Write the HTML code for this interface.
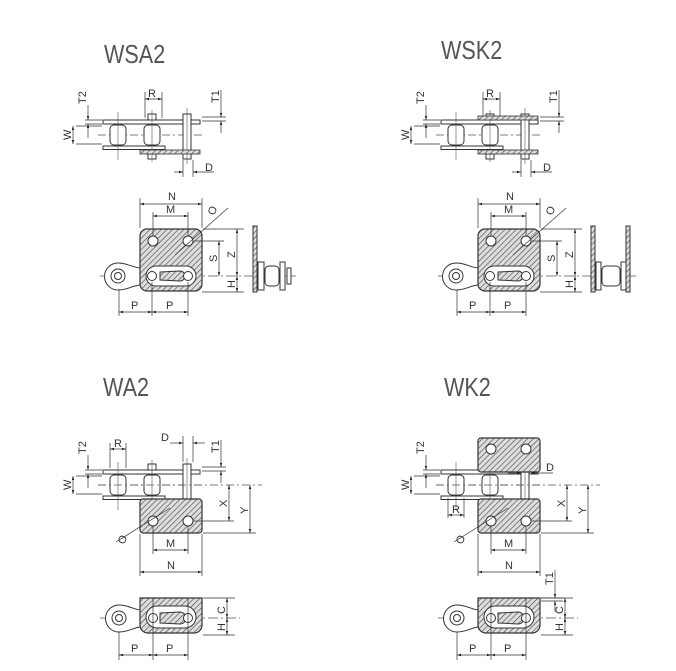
<!DOCTYPE html>
<html><head><meta charset="utf-8"><style>
html,body{margin:0;padding:0;background:#fff}
svg{display:block}
text{font-family:"Liberation Sans",sans-serif;fill:#333}
.t{font-size:30px;fill:#555}
.l{font-size:11px}
</style></head><body>
<svg width="676" height="671" viewBox="0 0 676 671" xmlns="http://www.w3.org/2000/svg">
<defs>
<pattern id="h" width="4" height="4" patternUnits="userSpaceOnUse" patternTransform="rotate(45)">
<rect width="4" height="4" fill="#ddd"/><line x1="0" y1="0" x2="0" y2="4" stroke="#444" stroke-width="1.2"/></pattern>
<marker id="a" viewBox="0 0 10 10" refX="10" refY="5" markerWidth="6" markerHeight="6" orient="auto-start-reverse"><path d="M0,2 L10,5 L0,8z" fill="#222"/></marker>

<!-- top view of link base -->
<g id="tb">
 <line x1="98" y1="135" x2="205" y2="135" stroke="#555" stroke-width="0.8" stroke-dasharray="8,3,2,3"/>
 <rect x="103" y="120" width="97" height="4" fill="#fff" stroke="#333" stroke-width="1"/>
 <rect x="103" y="146" width="62" height="3.5" fill="#fff" stroke="#333" stroke-width="1"/>
 <rect x="110" y="125" width="16" height="20" rx="4" fill="#fff" stroke="#333"/>
 <rect x="144" y="125" width="16" height="20" rx="4" fill="#fff" stroke="#333"/>
 <rect x="183" y="114" width="8" height="45" fill="#fff" stroke="#333"/>
 <rect x="148" y="114" width="8" height="6" fill="#fff" stroke="#333"/>
 <rect x="148" y="154" width="8" height="5" fill="#fff" stroke="#333"/>
 <line x1="118" y1="112" x2="118" y2="160" stroke="#555" stroke-width="0.6"/>
 <line x1="152" y1="110" x2="152" y2="162" stroke="#555" stroke-width="0.6"/>
 <line x1="187" y1="108" x2="187" y2="164" stroke="#555" stroke-width="0.6"/>
 <g stroke="#333" stroke-width="0.7" fill="none">
  <line x1="76" y1="126" x2="102" y2="126"/><line x1="76" y1="144" x2="102" y2="144"/>
  <line x1="73" y1="126" x2="73" y2="144" marker-start="url(#a)" marker-end="url(#a)"/>
  <line x1="88" y1="105" x2="88" y2="120" marker-end="url(#a)"/><line x1="88" y1="138" x2="88" y2="124" marker-end="url(#a)"/>
  <line x1="85" y1="120" x2="102" y2="120"/><line x1="85" y1="124" x2="102" y2="124"/>
 </g>
 <text class="l" transform="translate(71,140) rotate(-90)">W</text>
 <text class="l" transform="translate(86,104) rotate(-90)">T2</text>
</g>
<g id="t1">
 <g stroke="#333" stroke-width="0.7" fill="none">
  <line x1="202" y1="117" x2="226" y2="117"/><line x1="202" y1="121" x2="226" y2="121"/>
  <line x1="221" y1="90" x2="221" y2="117" marker-end="url(#a)"/><line x1="221" y1="133" x2="221" y2="121" marker-end="url(#a)"/>
 </g>
 <text class="l" transform="translate(219,103) rotate(-90)">T1</text>
</g>
<g id="top">
 <use href="#tb"/><use href="#t1"/>
 <g stroke="#333" stroke-width="0.7" fill="none">
  <line x1="145" y1="92" x2="145" y2="118"/><line x1="162" y1="92" x2="162" y2="118"/>
  <line x1="145" y1="99" x2="162" y2="99" marker-start="url(#a)" marker-end="url(#a)"/>
  <line x1="183" y1="160" x2="183" y2="177"/><line x1="193" y1="160" x2="193" y2="177"/>
  <line x1="174" y1="172" x2="183" y2="172" marker-end="url(#a)"/><line x1="214" y1="172" x2="193" y2="172" marker-end="url(#a)"/>
 </g>
 <text class="l" x="148" y="97">R</text>
 <text class="l" x="205" y="171">D</text>
</g>

<!-- side view (S types) -->
<g id="side">
 <line x1="100" y1="276" x2="245" y2="276" stroke="#555" stroke-width="0.8" stroke-dasharray="10,3,2,3"/>
 <path d="M118,263 C128,263 133,268 141,268 L141,285 C133,285 128,290 118,290 A13.5,13.5 0 0 1 118,263z" fill="#fff" stroke="#333"/>
 <circle cx="118" cy="276" r="7" fill="#fff" stroke="#333"/><circle cx="118" cy="276" r="3.5" fill="none" stroke="#333"/>
 <rect x="140" y="229" width="62" height="62" rx="7" fill="url(#h)" stroke="#333" stroke-width="1.2"/>
 <rect x="146" y="266" width="50" height="20" rx="10" fill="#fff" stroke="#333"/>
 <path d="M160,272 L180,271 A5,5 0 0 1 180,281 L160,280z" fill="url(#h)" stroke="#333"/>
 <circle cx="152" cy="276" r="4.5" fill="#fff" stroke="#333"/><circle cx="188" cy="276" r="4.5" fill="#fff" stroke="#333"/>
 <circle cx="153" cy="241" r="5" fill="#fff" stroke="#333"/><circle cx="188" cy="241" r="5" fill="#fff" stroke="#333"/>
 <g stroke="#333" stroke-width="0.7" fill="none">
  <line x1="140" y1="198" x2="140" y2="228"/><line x1="202" y1="198" x2="202" y2="228"/>
  <line x1="140" y1="204" x2="202" y2="204" marker-start="url(#a)" marker-end="url(#a)"/>
  <line x1="153" y1="212" x2="153" y2="236"/><line x1="188" y1="212" x2="188" y2="236"/>
  <line x1="153" y1="216" x2="188" y2="216" marker-start="url(#a)" marker-end="url(#a)"/>
  <line x1="119" y1="290" x2="119" y2="316"/><line x1="152" y1="282" x2="152" y2="316"/><line x1="188" y1="282" x2="188" y2="316"/>
  <line x1="119" y1="312" x2="152" y2="312" marker-start="url(#a)" marker-end="url(#a)"/>
  <line x1="152" y1="312" x2="188" y2="312" marker-start="url(#a)" marker-end="url(#a)"/>
  <line x1="175" y1="255" x2="228" y2="208"/>
  <line x1="194" y1="241" x2="224" y2="241"/><line x1="203" y1="229" x2="244" y2="229"/><line x1="202" y1="292" x2="244" y2="292"/>
  <line x1="219" y1="241" x2="219" y2="276" marker-start="url(#a)" marker-end="url(#a)"/>
  <line x1="237" y1="229" x2="237" y2="276" marker-start="url(#a)" marker-end="url(#a)"/>
  <line x1="237" y1="276" x2="237" y2="292" marker-start="url(#a)" marker-end="url(#a)"/>
 </g>
 <text class="l" x="168" y="200">N</text><text class="l" x="166" y="213">M</text>
 <text class="l" x="131" y="309">P</text><text class="l" x="166" y="309">P</text>
 <text class="l" transform="translate(214,216) rotate(-65)">O</text>
 <text class="l" transform="translate(217,262) rotate(-90)">S</text>
 <text class="l" transform="translate(235,258) rotate(-90)">Z</text>
 <text class="l" transform="translate(235,288) rotate(-90)">H</text>
</g>

<!-- bottom view (A/K) -->
<g id="bot">
 <line x1="100" y1="618" x2="240" y2="618" stroke="#555" stroke-width="0.8" stroke-dasharray="10,3,2,3"/>
 <path d="M119,605 C129,605 134,610 141,610 L141,627 C134,627 129,632 119,632 A13.5,13.5 0 0 1 119,605z" fill="#fff" stroke="#333"/>
 <circle cx="119" cy="618" r="7" fill="#fff" stroke="#333"/><circle cx="119" cy="618" r="3.5" fill="none" stroke="#333"/>
 <path d="M140,598 L202,598 L202,625 A8,8 0 0 1 194,633 L148,633 A8,8 0 0 1 140,625z" fill="url(#h)" stroke="#333" stroke-width="1.2"/>
 <rect x="146" y="606" width="50" height="22" rx="11" fill="#fff" stroke="#333"/>
 <path d="M160,613 L180,612 A6,6 0 0 1 180,624 L160,623z" fill="url(#h)" stroke="#333"/>
 <circle cx="153" cy="618" r="4.5" fill="#fff" stroke="#333"/><circle cx="188" cy="618" r="4.5" fill="#fff" stroke="#333"/>
 <g stroke="#333" stroke-width="0.7" fill="none">
  <line x1="119" y1="632" x2="119" y2="660"/><line x1="153" y1="598" x2="153" y2="660"/><line x1="188" y1="598" x2="188" y2="660"/>
  <line x1="119" y1="655" x2="153" y2="655" marker-start="url(#a)" marker-end="url(#a)"/>
  <line x1="153" y1="655" x2="188" y2="655" marker-start="url(#a)" marker-end="url(#a)"/>
  <line x1="203" y1="598" x2="235" y2="598"/><line x1="203" y1="635" x2="235" y2="635"/>
  <line x1="227" y1="598" x2="227" y2="618" marker-start="url(#a)" marker-end="url(#a)"/>
  <line x1="227" y1="618" x2="227" y2="635" marker-start="url(#a)" marker-end="url(#a)"/>
 </g>
 <text class="l" x="131" y="652">P</text><text class="l" x="166" y="652">P</text>
 <text class="l" transform="translate(225,614) rotate(-90)">C</text>
 <text class="l" transform="translate(225,631) rotate(-90)">H</text>
</g>

<!-- lower plate + dims (A/K) -->
<g id="lp">
 <line x1="98" y1="485" x2="262" y2="485" stroke="#555" stroke-width="0.8" stroke-dasharray="8,3,2,3"/>
 <rect x="140" y="499" width="62" height="34" rx="3" fill="url(#h)" stroke="#333" stroke-width="1.2"/>
 <circle cx="153" cy="521" r="5" fill="#fff" stroke="#333"/><circle cx="188" cy="521" r="5" fill="#fff" stroke="#333"/>
 <g stroke="#333" stroke-width="0.7" fill="none">
  <line x1="116" y1="542" x2="170" y2="508"/>
  <line x1="140" y1="534" x2="140" y2="576"/><line x1="202" y1="534" x2="202" y2="576"/>
  <line x1="140" y1="572" x2="202" y2="572" marker-start="url(#a)" marker-end="url(#a)"/>
  <line x1="153" y1="526" x2="153" y2="554"/><line x1="188" y1="526" x2="188" y2="554"/>
  <line x1="153" y1="550" x2="188" y2="550" marker-start="url(#a)" marker-end="url(#a)"/>
  <line x1="193" y1="521" x2="234" y2="521"/><line x1="203" y1="533" x2="256" y2="533"/>
  <line x1="229" y1="485" x2="229" y2="521" marker-start="url(#a)" marker-end="url(#a)"/>
  <line x1="250" y1="485" x2="250" y2="533" marker-start="url(#a)" marker-end="url(#a)"/>
 </g>
 <text class="l" x="166" y="547">M</text><text class="l" x="167" y="569">N</text>
 <text class="l" transform="translate(124,545) rotate(-65)">O</text>
 <text class="l" transform="translate(227,507) rotate(-90)">X</text>
 <text class="l" transform="translate(248,514) rotate(-90)">Y</text>
</g>
</defs>

<text class="t" transform="translate(104,63) scale(0.72,0.85)">WSA2</text>
<text class="t" transform="translate(441,59) scale(0.72,0.85)">WSK2</text>
<text class="t" transform="translate(103,396) scale(0.72,0.85)">WA2</text>
<text class="t" transform="translate(444,396) scale(0.72,0.85)">WK2</text>

<!-- WSA2 -->
<use href="#top"/>
<rect x="140" y="150" width="60" height="4" fill="url(#h)" stroke="#333" stroke-width="0.8"/>
<use href="#side"/>
<g stroke="#333" fill="#fff">
 <line x1="245" y1="276" x2="296" y2="276" stroke="#555" stroke-width="0.7"/>
 <rect x="253" y="226" width="4" height="66" fill="url(#h)"/>
 <rect x="258" y="262" width="6" height="28"/><rect x="265" y="266" width="14" height="20" rx="4"/>
 <rect x="280" y="262" width="5" height="28"/><rect x="287" y="268" width="4" height="16"/>
</g>

<!-- WSK2 -->
<g transform="translate(338,0)">
 <use href="#top"/>
 <rect x="140" y="116" width="60" height="4" fill="url(#h)" stroke="#333" stroke-width="0.8"/>
 <rect x="140" y="150" width="60" height="4" fill="url(#h)" stroke="#333" stroke-width="0.8"/>
 <use href="#side"/>
 <g stroke="#333" fill="#fff">
  <line x1="245" y1="276" x2="298" y2="276" stroke="#555" stroke-width="0.7"/>
  <rect x="253" y="226" width="4" height="66" fill="url(#h)"/>
  <rect x="288" y="226" width="4" height="66" fill="url(#h)"/>
  <rect x="258" y="262" width="5" height="28"/><rect x="264" y="266" width="18" height="20" rx="4"/>
  <rect x="283" y="262" width="5" height="28"/>
 </g>
</g>

<!-- WA2 -->
<g transform="translate(0,350)"><use href="#tb"/><use href="#t1"/></g>
<g stroke="#333" stroke-width="0.7" fill="none">
 <line x1="110" y1="443" x2="110" y2="468"/><line x1="126" y1="443" x2="126" y2="468"/>
 <line x1="110" y1="449" x2="126" y2="449" marker-start="url(#a)" marker-end="url(#a)"/>
 <line x1="183" y1="436" x2="183" y2="462"/><line x1="193" y1="436" x2="193" y2="462"/>
 <line x1="170" y1="443" x2="183" y2="443" marker-end="url(#a)"/><line x1="205" y1="443" x2="193" y2="443" marker-end="url(#a)"/>
</g>
<text class="l" x="114" y="447">R</text>
<text class="l" x="161" y="441">D</text>
<use href="#lp"/>
<use href="#bot"/>

<!-- WK2 -->
<g transform="translate(338,0)">
 <g transform="translate(0,350)"><use href="#tb"/></g>
 <rect x="140" y="438" width="62" height="34" rx="3" fill="url(#h)" stroke="#333" stroke-width="1.2"/>
 <circle cx="153" cy="449" r="5" fill="#fff" stroke="#333"/><circle cx="188" cy="449" r="5" fill="#fff" stroke="#333"/>
 <g stroke="#333" stroke-width="0.7" fill="none">
  <line x1="110" y1="498" x2="110" y2="518"/><line x1="126" y1="498" x2="126" y2="518"/>
  <line x1="110" y1="515" x2="126" y2="515" marker-start="url(#a)" marker-end="url(#a)"/>
  <line x1="170" y1="473" x2="183" y2="473" marker-end="url(#a)"/><line x1="215" y1="473" x2="193" y2="473" marker-end="url(#a)"/>
  <line x1="203" y1="598" x2="225" y2="598"/><line x1="203" y1="601" x2="225" y2="601"/>
  <line x1="217" y1="570" x2="217" y2="598" marker-end="url(#a)"/><line x1="217" y1="612" x2="217" y2="601" marker-end="url(#a)"/>
 </g>
 <text class="l" x="114" y="513">R</text>
 <text class="l" x="208" y="471">D</text>
 <text class="l" transform="translate(215,585) rotate(-90)">T1</text>
 <use href="#lp"/>
 <use href="#bot"/>
</g>
</svg>
</body></html>
